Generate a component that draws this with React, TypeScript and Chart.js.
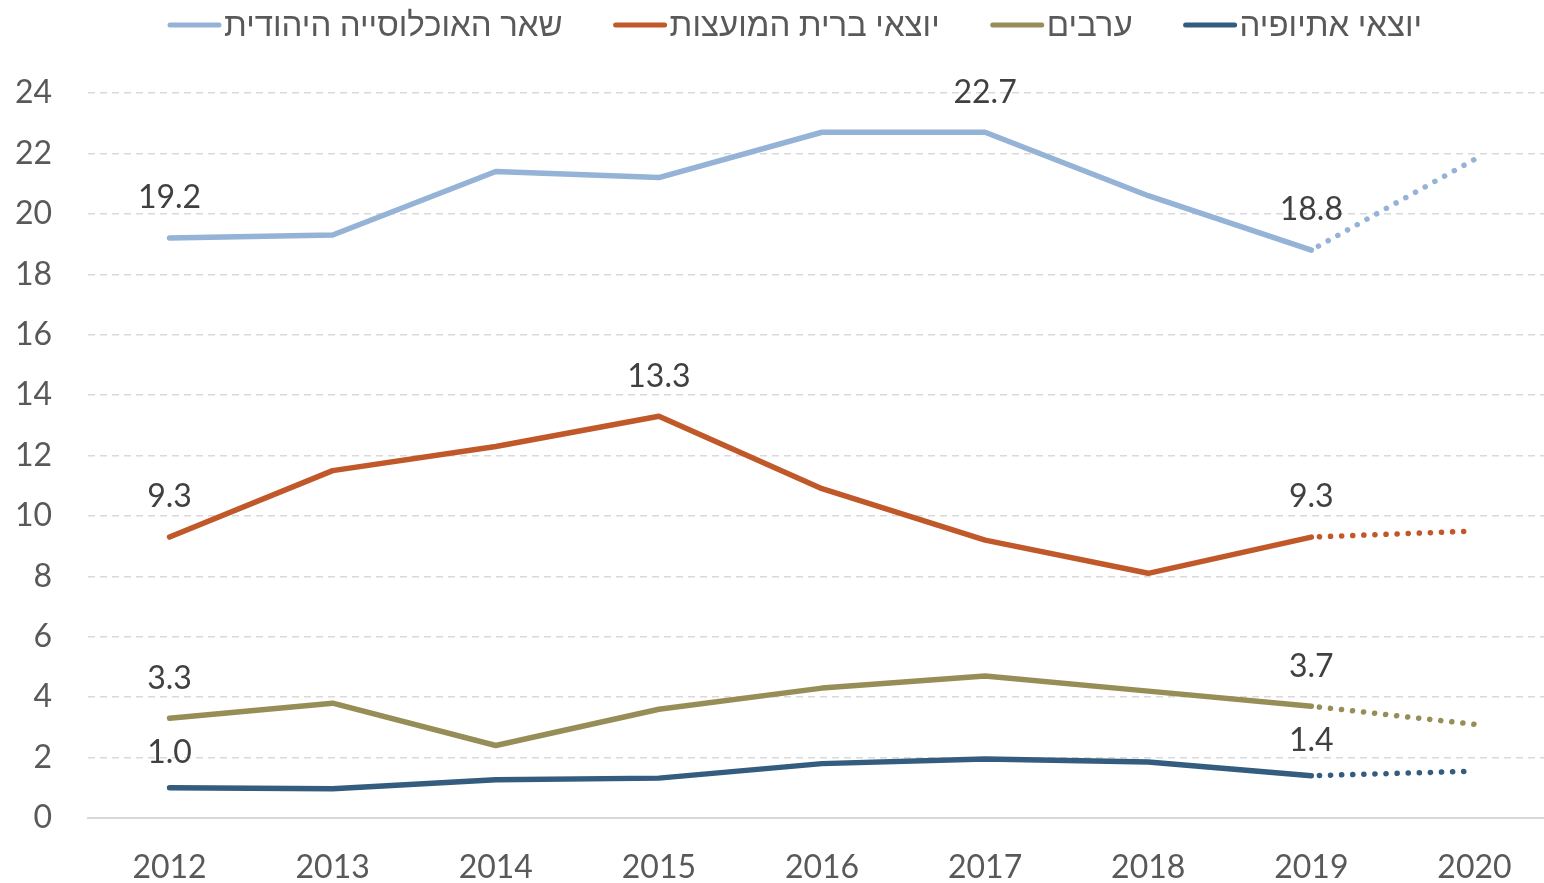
import React, { useEffect, useRef } from "react";
import { Chart, registerables } from "chart.js";

Chart.register(...registerables);

const years = ["2012", "2013", "2014", "2015", "2016", "2017", "2018", "2019", "2020"];
const seriesNames = ["שאר האוכלוסייה היהודית", "יוצאי ברית המועצות", "ערבים", "יוצאי אתיופיה"];
const restJewish = [19.2, 19.3, 21.4, 21.2, 22.7, 22.7, 20.6, 18.8, 21.8];
const fsuImmigrants = [9.3, 11.5, 12.3, 13.3, 10.9, 9.2, 8.1, 9.3, 9.5];
const arabs = [3.3, 3.8, 2.4, 3.6, 4.3, 4.7, 4.2, 3.7, 3.1];
const ethiopian = [1.0, 0.97, 1.27, 1.32, 1.8, 1.95, 1.85, 1.4, 1.55];
const restJewishLabels = [0, 5, 7];
const fsuLabels = [0, 3, 7];
const arabsLabels = [0, 7];
const ethiopianLabels = [0, 7];
const yTicks = { min: 0, max: 24, step: 2 };
const projectedFrom = 7;

const FONT = "Lato, 'Liberation Sans', 'DejaVu Sans', sans-serif";
const colors = ["#94B3D6", "#C0582A", "#978D57", "#335C7E"];

const labelPlugin = {
  id: "valueLabels",
  afterDatasetsDraw(chart: any) {
    const ctx = chart.ctx;
    ctx.save();
    ctx.font = `32px ${FONT}`;
    ctx.fillStyle = "#404040";
    ctx.textAlign = "center";
    ctx.textBaseline = "middle";
    chart.data.datasets.forEach((ds: any, di: number) => {
      const meta = chart.getDatasetMeta(di);
      (ds.labelIdx || []).forEach((i: number) => {
        const pt = meta.data[i];
        ctx.fillText(Number(ds.data[i]).toFixed(1), pt.x, pt.y - ds.labelOffset);
      });
    });
    ctx.restore();
  },
};

const legendPlugin = {
  id: "customLegend",
  afterDraw(chart: any) {
    const ctx = chart.ctx;
    ctx.save();
    ctx.font = `33px ${FONT}`;
    ctx.textBaseline = "middle";
    ctx.textAlign = "left";
    let x = 167;
    const y = 25;
    chart.data.datasets.forEach((ds: any) => {
      ctx.strokeStyle = ds.borderColor;
      ctx.lineWidth = 5;
      ctx.lineCap = "round";
      ctx.beginPath();
      ctx.moveTo(x + 3, y);
      ctx.lineTo(x + 52, y);
      ctx.stroke();
      ctx.fillStyle = "#595959";
      const tx = x + 57;
      ctx.fillText(ds.label, tx, y);
      x = tx + ctx.measureText(ds.label).width + 50;
    });
    ctx.restore();
  },
};

export default function App() {
  const ref = useRef<HTMLCanvasElement | null>(null);
  useEffect(() => {
    if (!ref.current) return;
    const mk = (label: string, data: number[], color: string, labelIdx: number[], labelOffset: number) => ({
      label,
      data,
      borderColor: color,
      backgroundColor: color,
      borderWidth: 5.5,
      pointRadius: 0,
      pointHoverRadius: 0,
      tension: 0,
      borderCapStyle: "round",
      borderJoinStyle: "round",
      labelIdx,
      labelOffset,
      segment: {
        borderDash: (c: any) => (c.p0DataIndex >= projectedFrom ? [0.1, 11] : undefined),
        borderDashOffset: (c: any) => (c.p0DataIndex >= projectedFrom ? 3 : undefined),
      },
    });
    const chart = new Chart(ref.current, {
      type: "line",
      data: {
        labels: years,
        datasets: [
          mk(seriesNames[0], restJewish, colors[0], restJewishLabels, 40),
          mk(seriesNames[1], fsuImmigrants, colors[1], fsuLabels, 40),
          mk(seriesNames[2], arabs, colors[2], arabsLabels, 40),
          mk(seriesNames[3], ethiopian, colors[3], ethiopianLabels, 35),
        ] as any,
      },
      options: {
        animation: false,
        responsive: false,
        layout: { padding: { top: 93, right: 0, left: 0, bottom: 0 } },
        plugins: { legend: { display: false }, tooltip: { enabled: false } },
        scales: {
          x: {
            offset: true,
            grid: { display: false, drawTicks: false },
            border: { display: true, color: "#D9D9D9", width: 2 },
            ticks: { color: "#595959", font: { family: FONT, size: 32 }, padding: 30, maxRotation: 0 },
            afterFit: (s: any) => {
              s.height = 65;
            },
          },
          y: {
            min: yTicks.min,
            max: yTicks.max,
            grid: {
              drawTicks: false,
              lineWidth: 1.5,
              color: (c: any) => (c.tick && c.tick.value === 0 ? "rgba(0,0,0,0)" : "#D9D9D9"),
            },
            border: { display: false, dash: [7, 5] },
            ticks: {
              stepSize: yTicks.step,
              color: "#595959",
              font: { family: FONT, size: 32 },
              padding: 36,
            },
            afterFit: (s: any) => {
              s.width = 88;
            },
          },
        },
      },
      plugins: [labelPlugin, legendPlugin],
    });
    return () => chart.destroy();
  }, []);
  return (
    <div style={{ position: "fixed", left: 0, top: 0, width: 1544, height: 883, overflow: "hidden", background: "#fff" }}>
      <canvas ref={ref} width={1556} height={883} style={{ display: "block", width: 1556, height: 883 }} />
    </div>
  );
}
